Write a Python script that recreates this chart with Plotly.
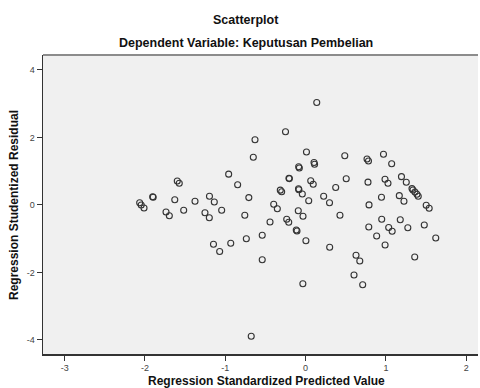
import plotly.graph_objects as go

predicted = [
    -2.066, -2.047, -2.012, -1.904, -1.898, -1.738, -1.697, -1.629, -1.598, -1.573,
    -1.518, -1.377, -1.197, -1.137, -1.253, -1.199, -1.045, -1.147, -1.070, -0.932,
    -0.958, -0.846, -0.738, -0.757, -0.707, -0.651, -0.630, -0.540, -0.540, -0.677,
    -0.443, -0.397, -0.352, -0.250, -0.315, -0.298, -0.207, -0.202, -0.235, -0.210,
    -0.116, -0.107, -0.086, -0.078, -0.088, -0.083, -0.041, -0.091, -0.032, 0.004,
    -0.034, 0.011, 0.039, 0.064, 0.095, 0.105, 0.112, 0.139, 0.225, 0.298,
    0.300, 0.375, 0.428, 0.488, 0.506, 0.603, 0.628, 0.675, 0.711, 0.765,
    0.783, 0.777, 0.790, 0.787, 0.885, 0.945, 0.948, 0.970, 0.989, 1.026,
    0.990, 1.035, 1.078, 1.072, 1.167, 1.225, 1.179, 1.194, 1.254, 1.273,
    1.325, 1.337, 1.362, 1.387, 1.403, 1.359, 1.478, 1.502, 1.539, 1.621,
]
residual = [
    0.065, -0.003, -0.092, 0.243, 0.228, -0.210, -0.320, 0.151, 0.708, 0.640,
    -0.160, 0.110, 0.258, 0.086, -0.234, -0.382, -0.160, -1.167, -1.381, -1.135,
    0.910, 0.596, -1.004, -0.305, 0.216, 1.410, 1.932, -0.898, -1.624, -3.890,
    -0.507, 0.018, -0.113, 2.169, 0.436, 0.391, 0.791, 0.779, -0.427, -0.516,
    -0.744, -0.773, 1.132, 1.093, 0.477, 0.447, 0.323, -0.175, -0.338, -1.061,
    -2.335, 1.567, 0.121, 0.717, 0.613, 1.256, 1.203, 3.034, 0.255, 0.065,
    -1.253, 0.516, -0.305, 1.458, 0.776, -2.077, -1.490, -1.662, -2.364, 1.360,
    1.301, 0.673, 0.000, -0.655, -0.921, 0.225, -0.424, 1.499, 0.761, 0.640,
    -1.188, -0.670, -0.782, 1.221, 0.273, 0.110, -0.439, 0.836, 0.670, -0.676,
    0.483, 0.441, 0.382, 0.314, 0.255, -1.544, -0.596, -0.012, -0.098, -0.981,
]

x_ticks = [-3, -2, -1, 0, 1, 2]
x_tick_labels = ["-3", "-2", "-1", "0", "1", "2"]
y_ticks = [-4, -2, 0, 2, 4]
y_tick_labels = ["-4", "-2", "0", "2", "4"]

title_line1 = "Scatterplot"
title_line2 = "Dependent Variable: Keputusan Pembelian"
x_title = "Regression Standardized Predicted Value"
y_title = "Regression Studentized Residual"

FONT = "Liberation Sans, Arial, sans-serif"

W, H = 480, 388
ML, MR, MT, MB = 43, 2, 55, 34
PW, PH = W - ML - MR, H - MT - MB


def px(xp):
    return (xp - ML) / PW


def py(yp):
    return (H - MB - yp) / PH


fig = go.Figure()
fig.add_trace(go.Scatter(
    x=predicted, y=residual, mode="markers",
    marker=dict(symbol="circle-open", size=6, color="#333333", line=dict(width=1.1, color="#333333")),
    showlegend=False,
))

fig.update_layout(
    width=W, height=H,
    margin=dict(l=ML, r=MR, t=MT, b=MB, pad=0),
    paper_bgcolor="white",
    plot_bgcolor="#f0f0f0",
    font=dict(family=FONT, color="#222222"),
    xaxis=dict(
        range=[-3.270, 2.147], tickvals=x_ticks, ticktext=x_tick_labels,
        showgrid=False, zeroline=False, showline=True, linecolor="#333333", linewidth=1.5,
        ticks="outside", ticklen=5, tickcolor="#333333", tickwidth=1,
        tickfont=dict(size=9, color="#444444", family=FONT),
        fixedrange=True,
    ),
    yaxis=dict(
        range=[-4.418, 4.441], tickvals=y_ticks, ticktext=y_tick_labels,
        showgrid=False, zeroline=False, showline=True, linecolor="#333333", linewidth=1.5,
        ticks="outside", ticklen=5, tickcolor="#333333", tickwidth=1,
        tickfont=dict(size=9, color="#444444", family=FONT),
        fixedrange=True,
    ),
    shapes=[
        dict(type="line", xref="paper", yref="paper", x0=0, x1=1, y0=1, y1=1,
             line=dict(color="#8c8c8c", width=2)),
    ],
    annotations=[
        dict(text="<b>%s</b>" % title_line1, xref="paper", yref="paper",
             x=px(246), y=py(20), yanchor="middle", xanchor="center", showarrow=False,
             font=dict(size=12.5, family=FONT, color="#111111")),
        dict(text="<b>%s</b>" % title_line2, xref="paper", yref="paper",
             x=px(246), y=py(43), yanchor="middle", xanchor="center", showarrow=False,
             font=dict(size=12.5, family=FONT, color="#111111")),
        dict(text="<b>%s</b>" % x_title, xref="paper", yref="paper",
             x=px(266), y=py(381), yanchor="middle", xanchor="center", showarrow=False,
             font=dict(size=12, family=FONT, color="#111111")),
        dict(text="<b>%s</b>" % y_title, xref="paper", yref="paper",
             x=px(14), y=py(205), textangle=-90,
             yanchor="middle", xanchor="center", showarrow=False,
             font=dict(size=12, family=FONT, color="#111111")),
    ],
)

fig.write_html(
    "out.html",
    config={"displayModeBar": False, "staticPlot": True},
    post_script="document.body.style.margin='0';document.body.style.overflow='hidden';",
)
